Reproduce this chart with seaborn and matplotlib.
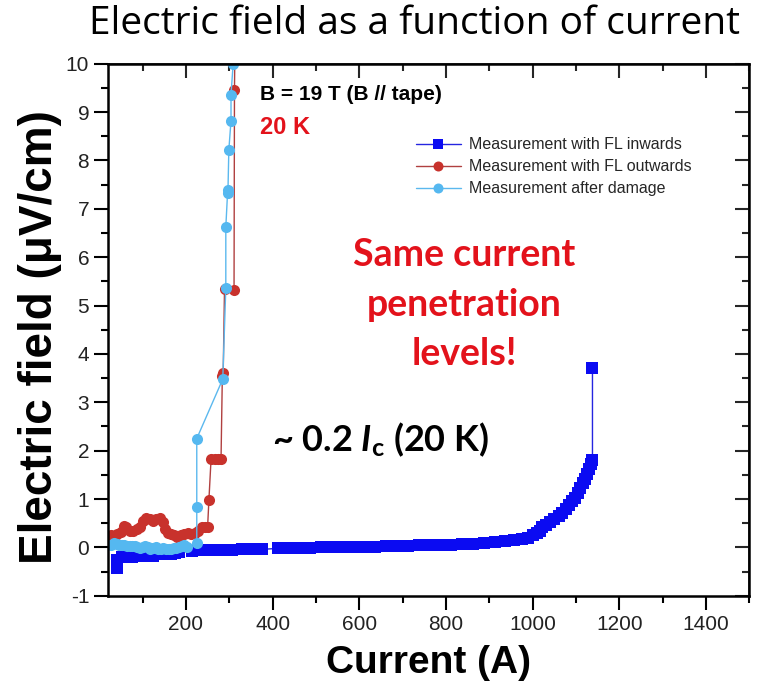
import numpy as np
import pandas as pd
import seaborn as sns
import matplotlib.pyplot as plt
from matplotlib import font_manager
from matplotlib.ticker import MultipleLocator

# Measurement with FL inwards
inw_x = [40, 42, 52, 60, 68, 76, 84, 92, 100, 108, 116, 124, 145, 155, 165, 175, 185,
         215, 240, 262, 285, 307, 330, 352, 375, 412, 437, 462, 487, 512, 537, 562, 587,
         612, 637, 662, 687, 712, 737, 762, 787, 812, 837, 862, 887, 912, 937, 958, 975,
         990, 1000, 1010, 1018, 1022, 1030, 1040, 1050, 1060, 1068, 1076, 1084, 1090,
         1097, 1104, 1110, 1116, 1121, 1126, 1131, 1135, 1138, 1138]
inw_y = [-0.42, -0.25, -0.2, -0.2, -0.19, -0.19, -0.18, -0.18, -0.18, -0.17, -0.17, -0.17,
         -0.14, -0.14, -0.13, -0.12, -0.1,
         -0.07, -0.06, -0.06, -0.05, -0.05, -0.04, -0.04, -0.04, -0.02, -0.02, -0.01, -0.01,
         0.0, 0.0, 0.0, 0.01, 0.01, 0.01, 0.02, 0.03, 0.03, 0.04, 0.04, 0.05, 0.06, 0.07,
         0.08, 0.09, 0.11, 0.13, 0.15, 0.17, 0.2, 0.25, 0.3, 0.34, 0.42, 0.46, 0.52, 0.58,
         0.65, 0.72, 0.8, 0.88, 0.95, 1.03, 1.12, 1.22, 1.33, 1.42, 1.52, 1.62, 1.72, 1.8, 3.7]

# Measurement with FL outwards
out_x = [28, 35, 42, 50, 56, 62, 70, 78, 86, 94, 100, 108, 116, 124, 132, 140, 146, 152,
         158, 165, 172, 180, 188, 196, 204, 212, 220, 228, 236, 244, 250, 253, 258, 266,
         274, 281, 284, 286, 289, 311, 312, 316]
out_y = [0.25, 0.22, 0.28, 0.32, 0.45, 0.42, 0.35, 0.34, 0.38, 0.42, 0.55, 0.6, 0.58, 0.55,
         0.58, 0.6, 0.52, 0.38, 0.3, 0.28, 0.25, 0.22, 0.25, 0.28, 0.3, 0.28, 0.3, 0.35,
         0.42, 0.42, 0.42, 0.98, 1.83, 1.83, 1.83, 1.83, 3.55, 3.6, 5.35, 5.32, 9.45, 13.0]

# Measurement after damage
dmg_x = [28, 34, 40, 46, 52, 58, 64, 70, 76, 82, 88, 94, 100, 106, 112, 118, 124, 130,
         136, 142, 148, 154, 160, 166, 172, 178, 184, 190, 196, 202, 225, 225, 225, 285,
         292, 292, 296, 297, 299, 304, 304, 309, 311]
dmg_y = [0.05, 0.1, 0.08, 0.06, 0.05, 0.04, 0.03, 0.02, 0.02, 0.03, 0.0, -0.02, 0.0, 0.02,
         0.0, -0.03, -0.02, 0.0, -0.03, -0.04, -0.02, -0.03, -0.04, -0.03, -0.02, -0.02,
         0.0, 0.02, 0.05, 0.0, 0.1, 0.83, 2.25, 3.48, 5.36, 6.62, 7.32, 7.38, 8.22, 8.82,
         9.36, 10.0, 12.0]

labels = ["Measurement with FL inwards", "Measurement with FL outwards",
          "Measurement after damage"]
x_ticks = [200, 400, 600, 800, 1000, 1200, 1400]

sns.set_theme(style="ticks")
plt.rcParams["font.family"] = ["Liberation Sans", "DejaVu Sans"]
plt.rcParams["axes.unicode_minus"] = False
plt.rcParams["mathtext.fontset"] = "custom"
plt.rcParams["mathtext.rm"] = "Lato:bold"
plt.rcParams["mathtext.it"] = "Lato:italic:bold"
plt.rcParams["mathtext.bf"] = "Lato:bold"

# narrow font for tick labels if there is one
names = {f.name for f in font_manager.fontManager.ttflist}
if "Liberation Sans Narrow" in names:
    tick_font, tick_size = "Liberation Sans Narrow", 17
else:
    tick_font, tick_size = "Liberation Sans", 15

fig = plt.figure(figsize=(7.6, 6.92), dpi=100)
ax = fig.add_axes([0.142, 0.139, 0.844, 0.769])

series = [
    (inw_x, inw_y, labels[0], "s", "#0B0BF2", "#2525E0"),
    (out_x, out_y, labels[1], "o", "#C8322C", "#B04040"),
    (dmg_x, dmg_y, labels[2], "o", "#55B8F0", "#5BB8EE"),
]
for xs, ys, lab, mk, mc, lc in series:
    df = pd.DataFrame({"I": xs, "E": ys})
    sns.lineplot(data=df, x="I", y="E", sort=False, estimator=None, ax=ax,
                 color=lc, linewidth=1.0, marker=mk, markersize=8,
                 markerfacecolor=mc, markeredgecolor=mc, markeredgewidth=0,
                 label=lab)

ax.set_xlim(20, 1500)
ax.set_ylim(-1, 10)
ax.set_xticks(x_ticks)
ax.xaxis.set_minor_locator(MultipleLocator(100))
ax.yaxis.set_major_locator(MultipleLocator(1))
ax.yaxis.set_minor_locator(MultipleLocator(0.5))
ax.tick_params(which="both", direction="out", width=1.5, colors="black",
               labelsize=tick_size, labelcolor="#222222")
ax.tick_params(which="major", length=10)
ax.tick_params(which="minor", length=5)
for lbl in ax.get_xticklabels() + ax.get_yticklabels():
    lbl.set_family(tick_font)
for s in ax.spines.values():
    s.set_linewidth(1.8)
    s.set_color("black")

top = ax.secondary_xaxis("top")
top.xaxis.set_major_locator(MultipleLocator(200))
top.xaxis.set_minor_locator(MultipleLocator(100))
top.tick_params(which="both", direction="in", width=1.5, labeltop=False)
top.tick_params(which="major", length=10)
top.tick_params(which="minor", length=5)
right = ax.secondary_yaxis("right")
right.yaxis.set_major_locator(MultipleLocator(1))
right.yaxis.set_minor_locator(MultipleLocator(0.5))
right.tick_params(which="both", direction="in", width=1.5, labelright=False)
right.tick_params(which="major", length=10)
right.tick_params(which="minor", length=5)

ax.set_xlabel("Current (A)", fontsize=28, fontweight="bold", labelpad=8, color="black")
ax.set_ylabel("Electric field (μV/cm)", fontsize=33, fontweight="bold", labelpad=0,
              color="black")
ax.yaxis.set_label_coords(-0.072, 0.487)

ax.legend(loc="upper left", bbox_to_anchor=(0.48, 0.862), frameon=False,
          fontsize=11.5, handlelength=2.8, borderaxespad=0, borderpad=0,
          labelspacing=0.45, handletextpad=0.5, markerscale=0.9)

ax.text(0.237, 0.942, "B = 19 T (B // tape)", transform=ax.transAxes, fontsize=15,
        fontweight="bold", color="black", va="center", ha="left")
ax.text(0.237, 0.88, "20 K", transform=ax.transAxes, fontsize=17,
        fontweight="bold", color="#E3121B", va="center", ha="left")
ax.text(0.555, 0.547, "Same current\npenetration\nlevels!", transform=ax.transAxes,
        fontsize=27, fontweight="bold", family="Lato", color="#E3121B",
        va="center", ha="center", linespacing=1.55)
ax.text(0.256, 0.293, r"~ 0.2 $I_{\mathrm{c}}$ (20 K)", transform=ax.transAxes,
        fontsize=26, fontweight="bold", family="Lato", color="black",
        va="center", ha="left")

fig.text(0.546, 0.965, "Electric field as a function of current", fontsize=28,
         family="Open Sans", ha="center", va="center", color="black")

fig.savefig("out.png", dpi=100)
